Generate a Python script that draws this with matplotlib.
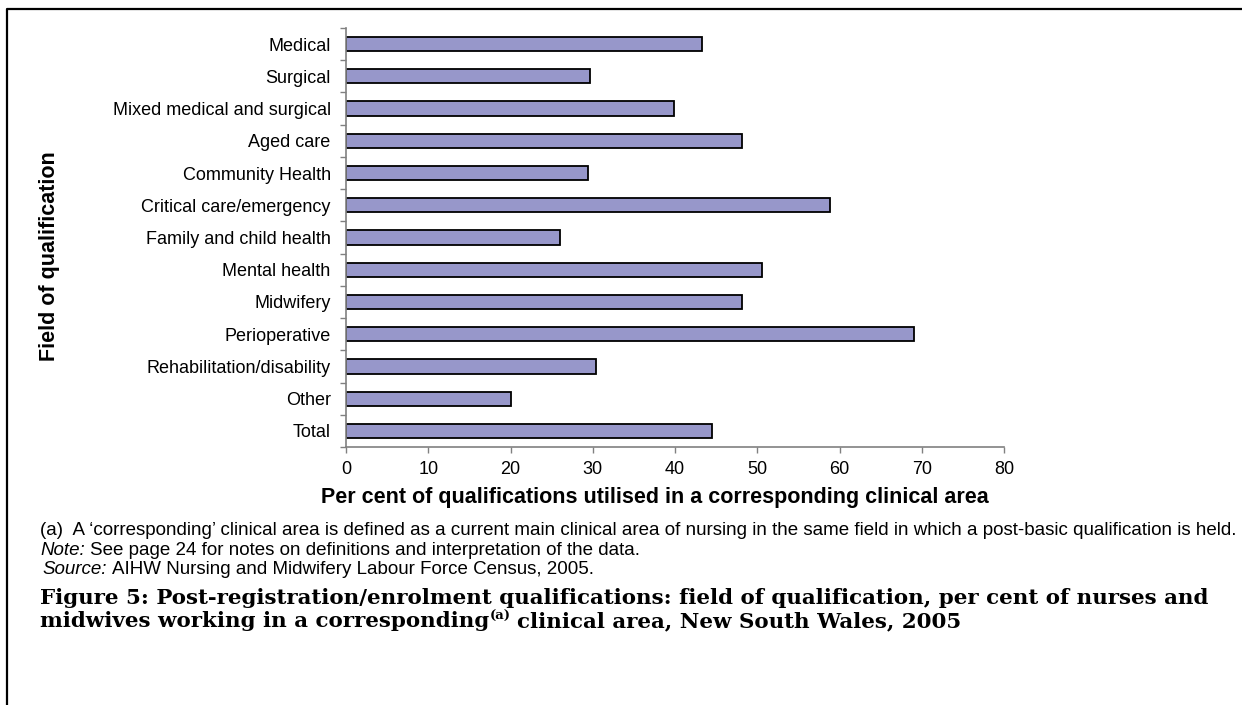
import matplotlib
matplotlib.use("Agg")
import matplotlib.pyplot as plt
from matplotlib.lines import Line2D
from matplotlib.ticker import FixedLocator

W, H = 1242, 705

# Field of qualification, top to bottom as in the chart
categories = [
    "Medical", "Surgical", "Mixed medical and surgical", "Aged care",
    "Community Health", "Critical care/emergency", "Family and child health",
    "Mental health", "Midwifery", "Perioperative", "Rehabilitation/disability",
    "Other", "Total",
]
# Per cent of qualifications utilised in a corresponding clinical area
percent = [43.3, 29.7, 39.9, 48.2, 29.4, 58.9, 26.0, 50.6, 48.2, 69.1, 30.4, 20.0, 44.5]
x_ticks = [0, 10, 20, 30, 40, 50, 60, 70, 80]

plt.rcParams['font.family'] = ['Liberation Sans', 'DejaVu Sans']

fig = plt.figure(figsize=(W / 100, H / 100), dpi=100)
ax = fig.add_axes([346 / W, 1 - 447 / H, (1004 - 346) / W, (447 - 28) / H])

ypos = list(range(len(categories)))
ax.barh(ypos, percent, height=0.44, color='#9797ca', edgecolor='black', linewidth=1.3)
ax.set_xlim(0, 80)
ax.set_ylim(len(categories) - 0.5, -0.5)

ax.set_yticks(ypos)
ax.set_yticklabels(categories, fontsize=13)
ax.yaxis.set_minor_locator(FixedLocator([i + 0.5 for i in range(-1, len(categories))]))
ax.tick_params(axis='y', which='major', length=0, pad=11)
ax.tick_params(axis='y', which='minor', length=4, width=1, color='#808080', direction='out')
ax.set_xticks(x_ticks)
ax.set_xticklabels([str(v) for v in x_ticks], fontsize=13)
ax.tick_params(axis='x', length=4, width=1, color='#808080', pad=6)

for side in ['top', 'right']:
    ax.spines[side].set_visible(False)
for side in ['left', 'bottom']:
    ax.spines[side].set_color('#808080')
    ax.spines[side].set_linewidth(1.2)


def px(x, y):
    return x / W, 1 - y / H


fig.text(*px(655, 497), "Per cent of qualifications utilised in a corresponding clinical area",
         fontsize=15.5, fontweight='bold', ha='center', va='center')
fig.text(*px(50, 256), "Field of qualification", fontsize=15.5, fontweight='bold',
         rotation=90, ha='center', va='center')

renderer = fig.canvas.get_renderer()


def rich_line(x, y, parts, size, family=None):
    # parts: (text, style dict); each part follows the previous one on the same baseline
    for s, style in parts:
        kw = dict(fontsize=size, va='baseline', ha='left')
        if family:
            kw['family'] = family
        kw.update(style)
        dy = kw.pop('rise', 0)
        gap = kw.pop('gap', 0)
        x += gap * kw['fontsize'] * 1.389
        t = fig.text(*px(x, y - dy), s, **kw)
        x += t.get_window_extent(renderer).width


foot = 13.5
rich_line(40, 535, [("(a)  A \u2018corresponding\u2019 clinical area is defined as a current main clinical area "
                     "of nursing in the same field in which a post-basic qualification is held.", {})], foot)
rich_line(40, 555, [("Note:", {'style': 'italic'}),
                    ("See page 24 for notes on definitions and interpretation of the data.", {'gap': 0.28})], foot)
rich_line(42, 574, [("Source:", {'style': 'italic'}),
                    ("AIHW Nursing and Midwifery Labour Force Census, 2005.", {'gap': 0.28})], foot)

cap = 15.4
serif = ['DejaVu Serif']
rich_line(40, 604, [("Figure 5: Post-registration/enrolment qualifications: field of qualification, "
                     "per cent of nurses and", {'fontweight': 'bold'})], cap, serif)
rich_line(40, 627, [("midwives working in a corresponding", {'fontweight': 'bold'}),
                    ("(a)", {'fontweight': 'bold', 'fontsize': 9.5, 'rise': 7, 'gap': 0.05}),
                    ("clinical area, New South Wales, 2005", {'fontweight': 'bold', 'gap': 0.3})], cap, serif)

# frame around the figure (left and top edges visible)
fig.add_artist(Line2D([7 / W, 7 / W, 1], [0, 1 - 9 / H, 1 - 9 / H], transform=fig.transFigure,
                      color='black', linewidth=1.6))

fig.savefig("out.png", dpi=100)
